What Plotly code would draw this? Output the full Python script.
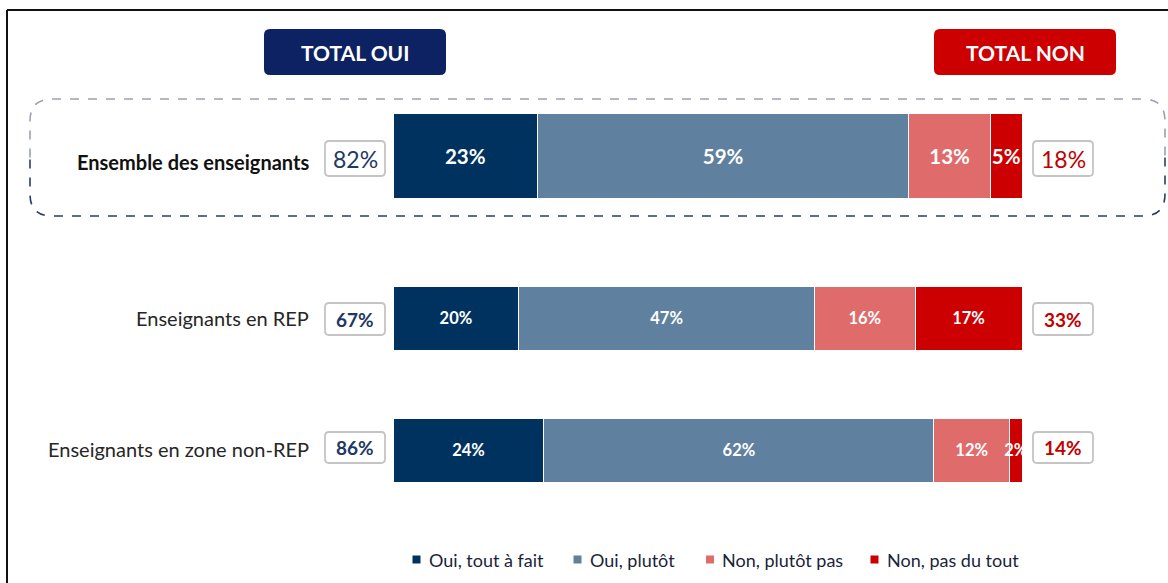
import plotly.graph_objects as go

# ---------------- data ----------------
categories = ["Ensemble des enseignants", "Enseignants en REP", "Enseignants en zone non-REP"]
series_names = ["Oui, tout à fait", "Oui, plutôt", "Non, plutôt pas", "Non, pas du tout"]
oui_tout_a_fait = [23, 20, 24]
oui_plutot = [59, 47, 62]
non_plutot_pas = [13, 16, 12]
non_pas_du_tout = [5, 17, 2]
header_left = "TOTAL OUI"
header_right = "TOTAL NON"

series_values = [oui_tout_a_fait, oui_plutot, non_plutot_pas, non_pas_du_tout]
total_oui = [a + b for a, b in zip(oui_tout_a_fait, oui_plutot)]
total_non = [a + b for a, b in zip(non_plutot_pas, non_pas_du_tout)]

# ---------------- style / layout ----------------
W, H = 1168, 583
FONT = "Lato"
colors = ["#00325f", "#60809f", "#e06b6b", "#cc0000"]
NAVY = "#1f3864"
RED = "#c00000"
row_y = [155.5, 318, 450]        # row centres (pixel units on y axis)
row_h = [85, 64, 64]             # bar thickness
text_sizes = [20.5, 16.5, 16.5]
label_dy = [6, 0, -1]
box_yc = [158.5, 319, 447.5]
box_h = [35, 32, 31]
legend_sq_x = [412.5, 573.5, 706, 870.5]
legend_y = 559.5

fig = go.Figure()
for name, vals, col in zip(series_names, series_values, colors):
    fig.add_trace(go.Bar(
        x=vals, y=row_y, width=row_h, orientation="h", name=name,
        marker=dict(color=col, line=dict(color="white", width=1)),
        texttemplate="<b>%{x}%</b>", textposition="inside", insidetextanchor="middle",
        textangle=0, constraintext="none",
        textfont=dict(family=FONT, color="white", size=text_sizes),
        showlegend=False, hoverinfo="skip",
    ))


def px(x):
    return x / W


def py(y):
    return 1 - y / H


def fmt(pts):
    s = ""
    for cmd, ps in pts:
        s += cmd + " ".join(f"{px(a):.5f},{py(b):.5f}" for a, b in ps) + " "
    return s


def rr_path(x0, y0, x1, y1, r):
    pts = [
        ("M", [(x0 + r, y0)]), ("L", [(x1 - r, y0)]), ("Q", [(x1, y0), (x1, y0 + r)]),
        ("L", [(x1, y1 - r)]), ("Q", [(x1, y1), (x1 - r, y1)]), ("L", [(x0 + r, y1)]),
        ("Q", [(x0, y1), (x0, y1 - r)]), ("L", [(x0, y0 + r)]), ("Q", [(x0, y0), (x0 + r, y0)]),
    ]
    return fmt(pts) + "Z"


def half_path(x0, y0, x1, y1, r, top=True):
    ym = (y0 + y1) / 2
    if top:
        pts = [("M", [(x0, ym)]), ("L", [(x0, y0 + r)]), ("Q", [(x0, y0), (x0 + r, y0)]),
               ("L", [(x1 - r, y0)]), ("Q", [(x1, y0), (x1, y0 + r)]), ("L", [(x1, ym)])]
    else:
        pts = [("M", [(x1, ym)]), ("L", [(x1, y1 - r)]), ("Q", [(x1, y1), (x1 - r, y1)]),
               ("L", [(x0 + r, y1)]), ("Q", [(x0, y1), (x0, y1 - r)]), ("L", [(x0, ym)])]
    return fmt(pts)


shapes = []
# outer frame (top and left lines)
shapes.append(dict(type="line", xref="paper", yref="paper", x0=px(7), x1=px(1168), y0=py(10), y1=py(10),
                   line=dict(color="#111111", width=2)))
shapes.append(dict(type="line", xref="paper", yref="paper", x0=px(7), x1=px(7), y0=py(10), y1=py(583),
                   line=dict(color="#111111", width=2)))
# dashed highlight box
shapes.append(dict(type="path", xref="paper", yref="paper", path=half_path(30, 99, 1165, 216, 22, True),
                   line=dict(color="#9aa0b4", width=1.6, dash="dash")))
shapes.append(dict(type="path", xref="paper", yref="paper", path=half_path(30, 99, 1165, 216, 22, False),
                   line=dict(color="#2b3d6b", width=1.6, dash="dash")))
# header boxes
shapes.append(dict(type="path", xref="paper", yref="paper", path=rr_path(264, 29, 446, 75, 6),
                   fillcolor="#0d2262", line=dict(width=0)))
shapes.append(dict(type="path", xref="paper", yref="paper", path=rr_path(934, 29, 1116, 75, 6),
                   fillcolor="#cc0000", line=dict(width=0)))

annotations = [
    dict(x=px(355), y=py(52), xref="paper", yref="paper", xanchor="center", yanchor="middle",
         text=f"<b>{header_left}</b>", showarrow=False,
         font=dict(family=FONT, size=21, color="white")),
    dict(x=px(1025), y=py(52), xref="paper", yref="paper", xanchor="center", yanchor="middle",
         text=f"<b>{header_right}</b>", showarrow=False,
         font=dict(family=FONT, size=21, color="white")),
]

for i, (cat, yc) in enumerate(zip(categories, row_y)):
    label = f"<b>{cat}</b>" if i == 0 else cat
    annotations.append(dict(x=px(311), y=py(yc + label_dy[i]), xref="paper", yref="paper", text=label,
                            showarrow=False, xanchor="right", yanchor="middle",
                            font=dict(family=FONT, size=20, color="#111111" if i == 0 else "#262626")))
    # total boxes
    by = box_yc[i]
    hh = box_h[i] / 2
    shapes.append(dict(type="path", xref="paper", yref="paper", path=rr_path(325, by - hh, 385, by + hh, 4),
                       fillcolor="white", line=dict(color="#c4c4c4", width=1.8)))
    shapes.append(dict(type="path", xref="paper", yref="paper", path=rr_path(1033, by - hh, 1093, by + hh, 4),
                       fillcolor="white", line=dict(color="#c4c4c4", width=1.8)))
    t_oui = f"{total_oui[i]}%" if i == 0 else f"<b>{total_oui[i]}%</b>"
    t_non = f"{total_non[i]}%" if i == 0 else f"<b>{total_non[i]}%</b>"
    fs = 23 if i == 0 else 19
    annotations.append(dict(x=px(355), y=py(by), xref="paper", yref="paper", text=t_oui, showarrow=False,
                            xanchor="center", yanchor="middle",
                            font=dict(family=FONT, size=fs, color=NAVY)))
    annotations.append(dict(x=px(1063), y=py(by), xref="paper", yref="paper", text=t_non, showarrow=False,
                            xanchor="center", yanchor="middle",
                            font=dict(family=FONT, size=fs, color=RED)))

# custom legend (swatches + labels)
for name, col, lx in zip(series_names, colors, legend_sq_x):
    shapes.append(dict(type="rect", xref="paper", yref="paper", x0=px(lx), x1=px(lx + 8),
                       y0=py(legend_y - 4), y1=py(legend_y + 4), fillcolor=col, line=dict(width=0)))
    annotations.append(dict(x=px(lx + 14), y=py(legend_y + 0.5), xref="paper", yref="paper",
                            xanchor="left", yanchor="middle", text=name, showarrow=False,
                            font=dict(family=FONT, size=18, color="#1c1f3a")))

fig.update_layout(
    width=W, height=H, barmode="stack",
    margin=dict(l=0, r=0, t=0, b=0),
    paper_bgcolor="white", plot_bgcolor="white",
    xaxis=dict(domain=[px(393), px(1022)], range=[0, 100], visible=False, fixedrange=True),
    yaxis=dict(domain=[0, 1], range=[H, 0], visible=False, fixedrange=True),
    shapes=shapes, annotations=annotations, showlegend=False,
)

fig.write_html("out.html", config={"displayModeBar": False},
               post_script="document.body.style.margin='0';")
